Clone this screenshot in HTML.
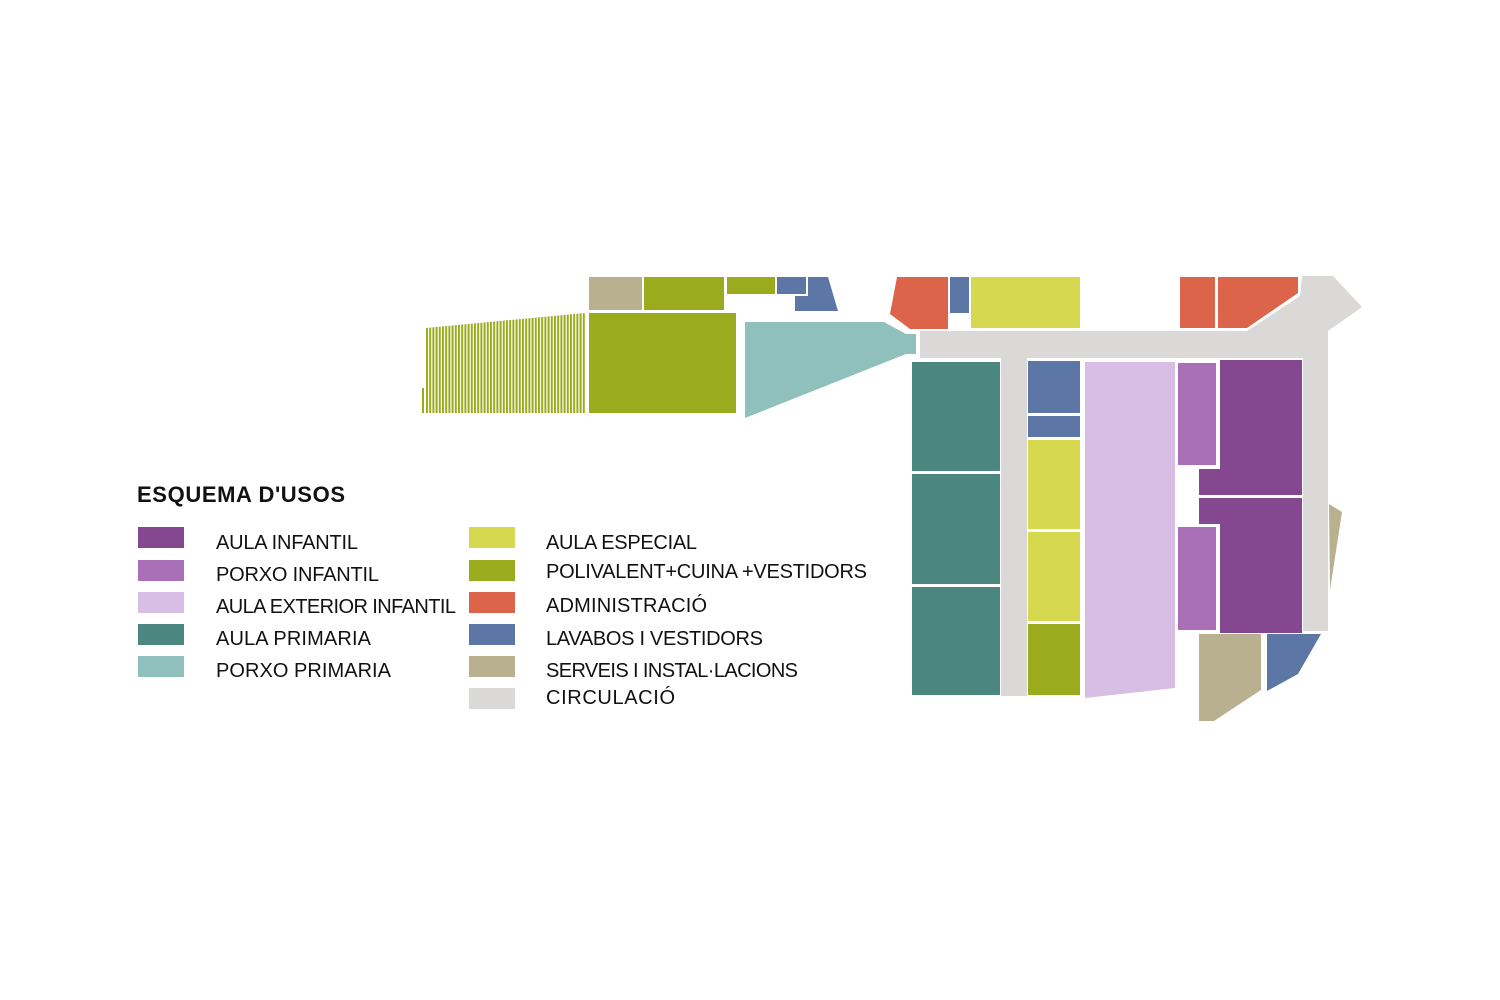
<!DOCTYPE html>
<html><head><meta charset="utf-8"><style>html,body{margin:0;padding:0;background:#fff}svg{display:block}</style></head>
<body>
<svg width="1500" height="1000" viewBox="0 0 1500 1000" xmlns="http://www.w3.org/2000/svg">
<defs>
<pattern id="st" x="426" y="0" width="3.2" height="10" patternUnits="userSpaceOnUse">
<rect x="0" y="0" width="2" height="10" fill="#9aab1e"/>
</pattern>
</defs>
<rect width="1500" height="1000" fill="#fff"/>
<polygon points="920,331 1247,331 1300,296 1302,276 1333,276 1362,307 1328,331 1328,631 1303,631 1303,358 1027,358 1027,696 1001,696 1001,358 920,358" fill="#dad9d7"/>
<polygon points="426,328 585,313 585,413 426,413" fill="url(#st)"/>
<rect x="422" y="388" width="2" height="25" fill="#9aab1e"/>
<g>
<rect x="589" y="277" width="53" height="33" fill="#b9b08f"/>
<rect x="644" y="277" width="80" height="33" fill="#9aab1e"/>
<rect x="727" y="277" width="48" height="17" fill="#9aab1e"/>
<rect x="777" y="277" width="29" height="17" fill="#5c77a6"/>
<polygon points="808,277 828,277 838,311 795,311 795,296 808,296" fill="#5c77a6"/>
<rect x="589" y="313" width="147" height="100" fill="#9aab1e"/>
<polygon points="745,322 884,322 906,334 916,334 916,354 906,354 745,418" fill="#90c0bb"/>
<polygon points="897,277 948,277 948,329 910,329 890,314" fill="#dc644b"/>
<rect x="950" y="277" width="19" height="36" fill="#5c77a6"/>
<rect x="971" y="277" width="109" height="51" fill="#d6d850"/>
<rect x="1180" y="277" width="35" height="51" fill="#dc644b"/>
<polygon points="1218,277 1298,277 1298,293 1247,328 1218,328" fill="#dc644b"/>
<rect x="912" y="362" width="88" height="109" fill="#4b877f"/>
<rect x="912" y="474" width="88" height="110" fill="#4b877f"/>
<rect x="912" y="587" width="88" height="108" fill="#4b877f"/>
<rect x="1028" y="361" width="52" height="52" fill="#5c77a6"/>
<rect x="1028" y="416" width="52" height="21" fill="#5c77a6"/>
<rect x="1028" y="440" width="52" height="89" fill="#d6d850"/>
<rect x="1028" y="532" width="52" height="89" fill="#d6d850"/>
<rect x="1028" y="624" width="52" height="71" fill="#9aab1e"/>
<polygon points="1085,362 1175,362 1175,688 1085,698" fill="#d8bee4"/>
<rect x="1178" y="363" width="38" height="102" fill="#a970b7"/>
<rect x="1178" y="527" width="38" height="103" fill="#a970b7"/>
<polygon points="1220,360 1302,360 1302,495 1199,495 1199,469 1220,469" fill="#854890"/>
<polygon points="1199,498 1302,498 1302,633 1220,633 1220,524 1199,524" fill="#854890"/>
<polygon points="1199,634 1261,634 1261,690 1214,721 1199,721" fill="#b9b08f"/>
<polygon points="1267,634 1321,634 1298,674 1267,691" fill="#5c77a6"/>
<polygon points="1329,504 1342,512 1330,590" fill="#b9b08f"/>
</g>
<text x="137" y="502" font-family="Liberation Sans, sans-serif" font-weight="bold" font-size="22" fill="#111" textLength="208">ESQUEMA D'USOS</text>
<g>
<rect x="138" y="527" width="46" height="21" fill="#854890"/>
<rect x="138" y="560" width="46" height="21" fill="#a970b7"/>
<rect x="138" y="592" width="46" height="21" fill="#d8bee4"/>
<rect x="138" y="624" width="46" height="21" fill="#4b877f"/>
<rect x="138" y="656" width="46" height="21" fill="#90c0bb"/>
<rect x="469" y="527" width="46" height="21" fill="#d6d850"/>
<rect x="469" y="560" width="46" height="21" fill="#9aab1e"/>
<rect x="469" y="592" width="46" height="21" fill="#dc644b"/>
<rect x="469" y="624" width="46" height="21" fill="#5c77a6"/>
<rect x="469" y="656" width="46" height="21" fill="#b9b08f"/>
<rect x="469" y="688" width="46" height="21" fill="#dad9d7"/>
</g>
<g font-family="Liberation Sans, sans-serif" font-size="20" fill="#111">
<text x="216" y="549" textLength="142">AULA INFANTIL</text>
<text x="216" y="581" textLength="163">PORXO INFANTIL</text>
<text x="216" y="613" textLength="240">AULA EXTERIOR INFANTIL</text>
<text x="216" y="645" textLength="155">AULA PRIMARIA</text>
<text x="216" y="677" textLength="175">PORXO PRIMARIA</text>
<text x="546" y="549" textLength="151">AULA ESPECIAL</text>
<text x="546" y="578" textLength="321">POLIVALENT+CUINA +VESTIDORS</text>
<text x="546" y="612" textLength="161">ADMINISTRACIÓ</text>
<text x="546" y="645" textLength="217">LAVABOS I VESTIDORS</text>
<text x="546" y="677" textLength="252">SERVEIS I INSTAL·LACIONS</text>
<text x="546" y="704" textLength="129">CIRCULACIÓ</text>
</g>
</svg>
</body></html>
